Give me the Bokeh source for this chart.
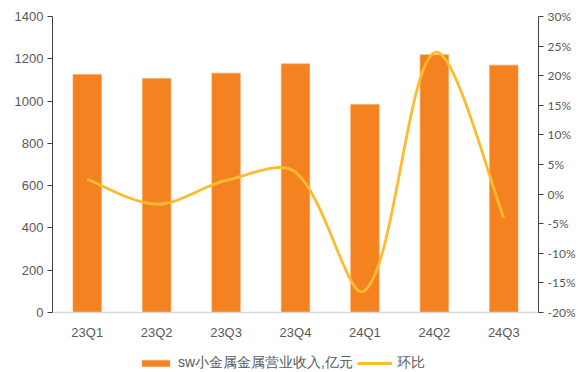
from bokeh.plotting import figure
from bokeh.models import (FactorRange, Range1d, LinearAxis, NumeralTickFormatter,
                          FixedTicker, Legend, LegendItem)
from bokeh.embed import file_html
from bokeh.resources import INLINE
import numpy as np

quarters = ["23Q1", "23Q2", "23Q3", "23Q4", "24Q1", "24Q2", "24Q3"]
revenue = [1126, 1107, 1132, 1176, 984, 1219, 1170]
qoq = [0.025, -0.017, 0.023, 0.037, -0.163, 0.239, -0.040]

BAR = "#F58220"
LINE = "#FDBB2F"
TXT = "#595959"

# frame runs from y=16 to the bottom (372); value 0 sits at y=312, 60px above the bottom
EXT = 60 / 296
p = figure(width=578, height=372, x_range=FactorRange(factors=quarters),
           y_range=Range1d(-1400 * EXT, 1400), output_backend="svg", toolbar_location=None,
           min_border_left=52, min_border_right=40, min_border_top=16, min_border_bottom=0)
p.extra_y_ranges = {"pct": Range1d(-0.20 - 0.50 * EXT, 0.30)}
p.outline_line_color = None
p.xgrid.visible = False
p.ygrid.visible = False

bars = p.vbar(x=quarters, top=revenue, width=0.41, fill_color=BAR, line_color="#F8A25A",
              line_width=0.6)

# smoothed curve through the data points (Excel-like: control arms scaled by segment lengths)
xs = np.arange(len(qoq)) + 0.5
ys = np.array(qoq, dtype=float)
SX, SY = 69.4, 592.0  # approx. screen pixels per x unit / per y unit, for arm lengths
n = len(xs)


def seg_len(i, j):
    return np.hypot((xs[j] - xs[i]) * SX, (ys[j] - ys[i]) * SY)


arm_out, arm_in = [], []
for i in range(n):
    a, b = max(i - 1, 0), min(i + 1, n - 1)
    tx, ty = xs[b] - xs[a], ys[b] - ys[a]
    lp = seg_len(a, i) if i > 0 else 0.0
    ln = seg_len(i, b) if i < n - 1 else 0.0
    tot = lp + ln
    fo = (ln / tot) / 3 * 2 if i in (0, n - 1) else (ln / tot) / 3
    fi = (lp / tot) / 3 * 2 if i in (0, n - 1) else (lp / tot) / 3
    if i == 0 or i == n - 1:
        fo = fi = 1 / 6
    arm_out.append((xs[i] + tx * fo, ys[i] + ty * fo))
    arm_in.append((xs[i] - tx * fi, ys[i] - ty * fi))

x0s, y0s, x1s, y1s, cx0, cy0, cx1, cy1 = [], [], [], [], [], [], [], []
for i in range(n - 1):
    x0s.append(xs[i]); y0s.append(ys[i]); x1s.append(xs[i + 1]); y1s.append(ys[i + 1])
    cx0.append(arm_out[i][0]); cy0.append(arm_out[i][1])
    cx1.append(arm_in[i + 1][0]); cy1.append(arm_in[i + 1][1])
p.bezier(x0=x0s, y0=y0s, x1=x1s, y1=y1s, cx0=cx0, cy0=cy0, cx1=cx1, cy1=cy1,
         line_color=LINE, line_width=2.8, y_range_name="pct")
legend_line = p.line(x=[0.5], y=[float("nan")], line_color=LINE, line_width=2.8,
                     y_range_name="pct")

# left axis
ax = p.yaxis[0]
ax.ticker = FixedTicker(ticks=list(range(0, 1401, 200)))
ax.bounds = (0, 1400)
ax.axis_line_color = "#404040"
ax.major_tick_line_color = "#404040"
ax.major_tick_out = 5
ax.major_tick_in = 0
ax.minor_tick_line_color = None
ax.major_label_text_font = "Liberation Sans"
ax.major_label_text_font_size = "13px"
ax.major_label_text_color = TXT
ax.major_label_standoff = 4

# right axis
rax = LinearAxis(y_range_name="pct")
rax.ticker = FixedTicker(ticks=[-0.20, -0.15, -0.10, -0.05, 0, 0.05, 0.10, 0.15, 0.20, 0.25, 0.30])
rax.bounds = (-0.20, 0.30)
rax.formatter = NumeralTickFormatter(format="0%")
rax.axis_line_color = "#404040"
rax.major_tick_line_color = "#404040"
rax.major_tick_out = 5
rax.major_tick_in = 0
rax.minor_tick_line_color = None
rax.major_label_text_font = "Lato"
rax.major_label_text_font_size = "12px"
rax.major_label_text_color = TXT
rax.major_label_standoff = 4
p.add_layout(rax, "right")

# x axis, pinned at value 0
xax = p.xaxis[0]
xax.fixed_location = 0
xax.axis_line_color = "#D9D9D9"
xax.axis_line_width = 1.5
xax.major_tick_line_color = None
xax.major_tick_out = 0
xax.major_tick_in = 0
xax.minor_tick_line_color = None
xax.major_label_text_font = "Liberation Sans"
xax.major_label_text_font_size = "13px"
xax.major_label_text_color = TXT
xax.major_label_standoff = 12

legend = Legend(items=[LegendItem(label="sw小金属金属营业收入,亿元", renderers=[bars]),
                       LegendItem(label="环比", renderers=[legend_line])],
                orientation="horizontal", location=(86, 0),
                padding=0, margin=0, spacing=4, label_standoff=5,
                glyph_width=35, glyph_height=8, label_height=14,
                label_text_font="Liberation Sans", label_text_font_size="14px",
                label_text_color=TXT, background_fill_alpha=0, border_line_alpha=0)
p.add_layout(legend, "center")

open("out.html", "w").write(file_html(p, INLINE))
